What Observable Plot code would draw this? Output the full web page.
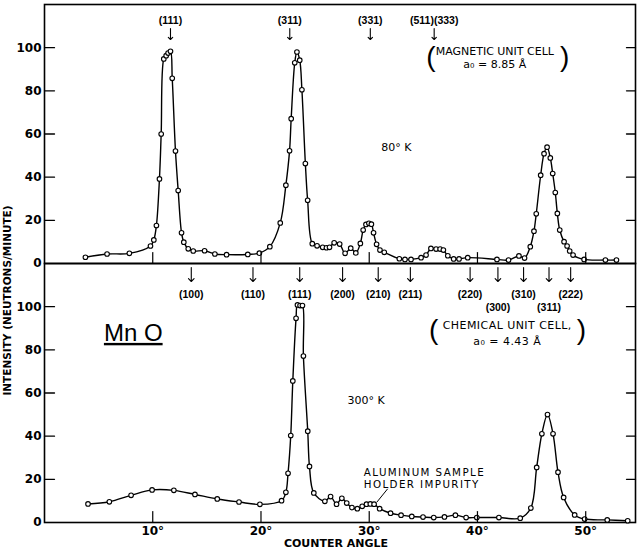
<!DOCTYPE html>
<html><head><meta charset="utf-8">
<script src="https://cdn.jsdelivr.net/npm/d3@7"></script>
<script src="https://cdn.jsdelivr.net/npm/@observablehq/plot@0.6"></script>
<style>
body{margin:0;background:#fff;}
.mno text{text-decoration:underline;text-decoration-thickness:2px;}
.wide text{letter-spacing:1.4px;}
.wide2 text{letter-spacing:0.45px;}
</style></head><body><div id="chart"></div>
<script>
// 80 K pattern (magnetic reflections)
const angles80 = [3.78,5.78,7.84,9.79,10.10,10.34,10.62,10.78,11.02,11.24,11.42,11.64,11.80,12.10,12.35,12.66,12.87,13.28,13.74,14.79,15.74,16.82,18.78,19.85,20.82,21.78,22.30,22.64,22.79,23.12,23.32,23.58,23.78,24.10,24.31,24.74,25.18,25.70,26.05,26.33,26.76,27.27,27.77,28.29,28.76,29.18,29.44,29.70,29.97,30.20,30.40,30.68,30.99,31.39,32.78,33.30,33.86,34.79,35.25,35.70,36.18,36.55,36.85,37.26,37.80,38.30,39.10,41.80,42.87,43.83,44.35,44.88,45.22,45.43,45.84,46.15,46.43,46.73,46.95,47.19,47.38,47.60,48.00,48.28,48.52,48.83,49.85,51.82,52.84];
const counts80 = [2.9,4.4,4.7,8.1,10.9,17.6,39.2,60.0,94.8,96.3,97.5,98.3,85.8,52.1,33.8,14.2,9.9,6.8,5.8,5.9,4.4,4.1,4.2,4.8,7.8,18.8,36.3,52.2,67.1,93.0,98.0,94.2,80.5,46.3,29.3,9.2,8.2,7.5,7.3,7.5,9.6,9.0,4.7,7.1,4.9,9.3,15.5,18.1,18.6,18.2,14.2,8.9,6.2,5.2,2.2,1.9,1.9,2.7,3.9,7.0,6.7,6.7,6.2,3.6,2.1,2.1,2.7,1.9,1.6,3.5,2.5,7.8,15.0,23.0,40.9,50.9,53.9,48.9,41.7,32.9,23.2,15.5,10.1,8.1,5.8,3.9,1.9,1.6,1.6];
// 300 K pattern (nuclear reflections)
const angles300 = [4.02,5.99,8.00,9.94,11.95,13.90,15.96,17.97,19.90,21.90,22.30,22.50,22.75,22.94,23.24,23.37,23.61,23.83,23.92,24.32,24.48,24.88,25.90,26.43,26.98,27.47,27.92,28.40,28.90,29.35,29.75,30.10,30.45,30.96,31.97,32.94,33.93,34.97,35.96,36.95,37.96,38.95,39.94,41.98,43.95,44.93,45.47,45.95,46.47,46.98,47.44,47.96,48.98,49.90,51.99,53.88];
const counts300 = [8.6,9.6,12.6,15.1,14.9,13.0,10.9,9.5,8.4,10.1,14.0,22.8,40.3,65.6,94.6,100.8,100.5,100.5,77.1,42.3,26.0,13.7,9.8,12.0,8.5,11.2,9.0,6.9,6.4,7.5,8.5,8.6,8.5,6.4,4.3,3.4,2.8,2.5,2.3,2.6,3.4,2.3,2.3,2.3,2.0,6.7,25.5,41.1,50.0,41.1,23.3,11.6,3.5,1.6,1.2,0.8];

const magneticHkl = ["(111)","(311)","(331)","(511)(333)"];
const magneticAngle = [11.64,22.66,30.1,36.0];
const chemicalHkl = ["(100)","(110)","(111)","(200)","(210)","(211)","(220)","(300)","(310)","(311)","(222)"];
const chemicalAngle = [13.56,19.26,23.58,27.54,30.83,33.80,39.32,41.89,44.26,46.61,48.61];
const chemicalRow = [1,1,1,1,1,1,1,2,1,2,1];
const xTicks = [10,20,30,40,50];
const yTicks = [0,20,40,60,80,100];
const panels = ["80K","300K"];

const points = [
  ...angles80.map((a,i)=>({angle:a, counts:counts80[i], panel:panels[0]})),
  ...angles300.map((a,i)=>({angle:a, counts:counts300[i], panel:panels[1]}))
];
const chemical = chemicalHkl.map((h,i)=>({hkl:h, angle:chemicalAngle[i], row:chemicalRow[i]}));
const magnetic = magneticHkl.map((h,i)=>({hkl:h, angle:magneticAngle[i]}));

const tickShape = {draw(ctx, l){ctx.moveTo(0,0); ctx.lineTo(0,-l);}};
const upper = ()=>panels[0], lower = ()=>panels[1];
const lab = {fontFamily:"DejaVu Sans", fontSize:11};
const hklFont = {fontFamily:"Liberation Sans", fontWeight:"bold", fontSize:10.5};

const chart = Plot.plot({
  width:640, height:552,
  marginTop:3, marginBottom:30, marginLeft:44, marginRight:5,
  style:{fontFamily:"DejaVu Sans", background:"white", color:"black"},
  x:{domain:[0,54.6]},
  y:{domain:[0,120]},
  fy:{domain:panels, padding:0, axis:null},
  marks:[
    Plot.frame({strokeWidth:1.6}),
    Plot.line(points, {x:"angle", y:"counts", fy:"panel", curve:"catmull-rom", strokeWidth:1.4}),
    Plot.dot(points, {x:"angle", y:"counts", fy:"panel", r:2.3, fill:"white", stroke:"black", strokeWidth:1.1}),
    // inward ticks
    Plot.vector(yTicks.filter(d=>d>0), {y:d=>d, frameAnchor:"left", anchor:"start", rotate:90, length:10, shape:tickShape, strokeWidth:1.3}),
    Plot.vector(yTicks.filter(d=>d>0), {y:d=>d, frameAnchor:"right", anchor:"start", rotate:-90, length:9, shape:tickShape, strokeWidth:1.3}),
    Plot.vector(xTicks, {x:d=>d, frameAnchor:"bottom", anchor:"start", rotate:0, length:11, shape:tickShape, strokeWidth:1.2}),
    // axes labels
    Plot.axisY(yTicks, {tickSize:0, tickPadding:3, fontSize:12, fontWeight:"bold", label:null}),
    Plot.axisX(xTicks, {tickSize:0, tickPadding:4, fontSize:12, fontWeight:"bold", tickFormat:d=>d+"°", label:null}),
    Plot.text(["COUNTER ANGLE"], {fy:lower, frameAnchor:"bottom", dx:-4, dy:24, fontSize:11, fontWeight:"bold"}),
    Plot.text(["INTENSITY (NEUTRONS/MINUTE)"], {fy:upper, frameAnchor:"bottom-left", dx:-34, dy:37, rotate:-90, textAnchor:"middle", fontSize:10.5, fontWeight:"bold"}),
    // magnetic reflections
    Plot.vector(magnetic, {x:"angle", fy:upper, frameAnchor:"top", anchor:"start", rotate:180, length:11, dy:24, strokeWidth:1.1}),
    Plot.text(magnetic, {x:"angle", fy:upper, frameAnchor:"top", dy:12, text:"hkl", ...hklFont}),
    // chemical reflections
    Plot.vector(chemical, {x:"angle", fy:lower, frameAnchor:"top", anchor:"start", rotate:180, length:14, dy:4, strokeWidth:1.1}),
    Plot.text(chemical, {filter:d=>d.row===1, x:"angle", fy:lower, frameAnchor:"top", dy:27, text:"hkl", ...hklFont}),
    Plot.text(chemical, {filter:d=>d.row===2, x:"angle", fy:lower, frameAnchor:"top", dy:40, text:"hkl", ...hklFont}),
    // annotations top
    Plot.text(["80° K"], {x:31.1, y:53.8, fy:upper, textAnchor:"start", ...lab}),
    Plot.text(["MAGNETIC UNIT CELL\na\u2080 = 8.85 Å"], {x:41.6, y:95.5, fy:upper, lineHeight:1.2, ...lab}),
    Plot.text(["("], {x:35.7, y:95.6, fy:upper, fontSize:28, fontFamily:"Liberation Sans"}),
    Plot.text([")"], {x:48.05, y:95.6, fy:upper, fontSize:28, fontFamily:"Liberation Sans"}),
    // annotations bottom
    Plot.text(["Mn O"], {x:8.2, y:87.7, fy:lower, fontSize:24, fontFamily:"Liberation Sans", className:"mno"}),
    Plot.text(["300° K"], {x:28.0, y:56.6, fy:lower, textAnchor:"start", ...lab}),
    Plot.text(["CHEMICAL UNIT CELL,\na\u2080 = 4.43 Å"], {x:42.75, y:88.4, fy:lower, lineHeight:1.5, className:"wide2", ...lab}),
    Plot.text(["("], {x:35.95, y:89.2, fy:lower, fontSize:28, fontFamily:"Liberation Sans"}),
    Plot.text([")"], {x:49.6, y:89.2, fy:lower, fontSize:28, fontFamily:"Liberation Sans"}),
    Plot.text(["ALUMINUM SAMPLE\nHOLDER IMPURITY"], {x:29.5, y:20.6, fy:lower, textAnchor:"start", lineHeight:1.22, fontFamily:"DejaVu Sans", fontSize:10.3, className:"wide"}),
    Plot.link([0], {x1:31.7, y1:15.6, x2:30.7, y2:9.4, fy:lower, strokeWidth:1})
  ]
});
document.getElementById("chart").append(chart);
</script></body></html>
